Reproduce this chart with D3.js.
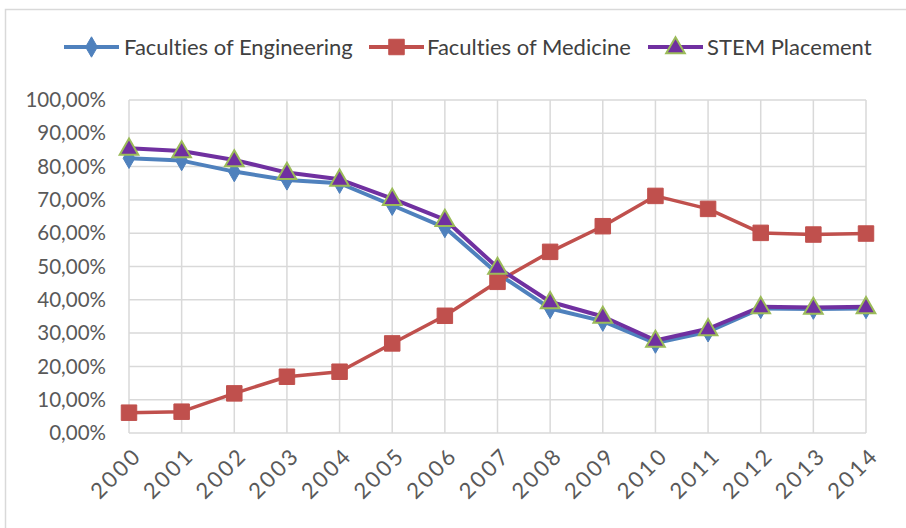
<!DOCTYPE html>
<html lang="en">
<head>
  <meta charset="UTF-8">
  <title>Engineering, Medicine and STEM placement 2000-2014</title>
  <script src="https://d3js.org/d3.v7.min.js"></script>
  <style>
    body { margin: 0; background: #fff; font-family: Lato, "Open Sans", sans-serif; font-variant-ligatures: none; }
    .grid line { stroke: #d9d9d9; stroke-width: 1.5; }
    .tick-label { fill: #595959; font-size: 20.5px; }
    .x-label { fill: #595959; font-size: 22px; letter-spacing: 2.5px; }
    .legend-label { fill: #404040; font-size: 22px; }
  </style>
</head>
<body>
  <svg id="chart" width="906" height="528"></svg>

  <script>
    const years = ["2000","2001","2002","2003","2004","2005","2006","2007","2008","2009","2010","2011","2012","2013","2014"];
    const engineering = [82.5, 81.8, 78.5, 76.0, 75.0, 68.4, 61.7, 47.9, 37.4, 33.6, 27.0, 30.4, 37.4, 37.2, 37.4];
    const medicine = [6.1, 6.4, 11.9, 16.9, 18.4, 26.9, 35.2, 45.4, 54.4, 62.1, 71.2, 67.3, 60.1, 59.6, 59.9];
    const stem = [85.5, 84.7, 82.0, 78.2, 76.2, 70.4, 64.1, 49.7, 39.4, 35.0, 27.8, 31.3, 37.9, 37.7, 37.9];
    const yTicks = [0, 10, 20, 30, 40, 50, 60, 70, 80, 90, 100];

    const series = [
      {name: "Faculties of Engineering", values: engineering, color: "#4f81bd", marker: "diamond"},
      {name: "Faculties of Medicine", values: medicine, color: "#c0504d", marker: "square"},
      {name: "STEM Placement", values: stem, color: "#7030a0", marker: "triangle"}
    ];

    const svg = d3.select("#chart");

    // chart frame (only top and left edges are inside the picture)
    svg.append("rect")
      .attr("x", 5.5).attr("y", 9.5)
      .attr("width", 1000).attr("height", 1000)
      .attr("fill", "none").attr("stroke", "#d9d9d9").attr("stroke-width", 1.5);

    const x = d3.scalePoint().domain(years).range([129, 866]);
    const y = d3.scaleLinear().domain([0, 100]).range([433, 100]);

    const grid = svg.append("g").attr("class", "grid");
    grid.selectAll("line.h").data(yTicks).join("line")
      .attr("x1", x(years[0])).attr("x2", x(years[years.length - 1]))
      .attr("y1", d => y(d)).attr("y2", d => y(d));
    grid.selectAll("line.v").data(years).join("line")
      .attr("x1", d => x(d)).attr("x2", d => x(d))
      .attr("y1", y(100)).attr("y2", y(0));

    svg.selectAll("text.ylab").data(yTicks).join("text")
      .attr("class", "tick-label")
      .attr("x", 106).attr("y", d => y(d))
      .attr("dy", "0.35em")
      .attr("text-anchor", "end")
      .text(d => d3.format(".2f")(d).replace(".", ",") + "%");

    svg.selectAll("text.xlab").data(years).join("text")
      .attr("class", "x-label")
      .attr("text-anchor", "end")
      .attr("transform", d => `translate(${x(d) + 14},${457}) rotate(-45)`)
      .text(d => d);

    const symbols = {
      diamond: d3.symbol().type(d3.symbolDiamond).size(120),
      square: d3.symbol().type(d3.symbolSquare).size(240),
      triangle: d3.symbol().type(d3.symbolTriangle).size(150)
    };

    function drawMarker(g, s, cx, cy) {
      const p = g.append("path")
        .attr("d", symbols[s.marker]())
        .attr("transform", `translate(${cx},${cy + (s.marker === "triangle" ? 1 : 0)})`)
        .attr("fill", s.color);
      if (s.marker === "triangle") p.attr("stroke", "#9bbb59").attr("stroke-width", 2);
      else p.attr("stroke", s.color).attr("stroke-width", 1);
    }

    const line = d3.line()
      .x((d, i) => x(years[i]))
      .y(d => y(d));

    series.forEach(s => {
      const g = svg.append("g");
      g.append("path")
        .datum(s.values)
        .attr("fill", "none")
        .attr("stroke", s.color)
        .attr("stroke-width", s.marker === "square" ? 3.5 : 4)
        .attr("stroke-linejoin", "round")
        .attr("d", line);
      s.values.forEach((v, i) => drawMarker(g, s, x(years[i]), y(v)));
    });

    // legend
    const legendItems = [
      {s: series[0], x0: 64, tx: 124},
      {s: series[1], x0: 369, tx: 427},
      {s: series[2], x0: 648, tx: 707}
    ];
    const ly = 47;
    legendItems.forEach(item => {
      const g = svg.append("g");
      g.append("line")
        .attr("x1", item.x0).attr("x2", item.x0 + 55)
        .attr("y1", ly).attr("y2", ly)
        .attr("stroke", item.s.color).attr("stroke-width", 4);
      drawMarker(g, item.s, item.x0 + 27.5, ly);
      g.append("text")
        .attr("class", "legend-label")
        .attr("x", item.tx).attr("y", ly)
        .attr("dy", "0.35em")
        .text(item.s.name);
    });
  </script>
</body>
</html>
